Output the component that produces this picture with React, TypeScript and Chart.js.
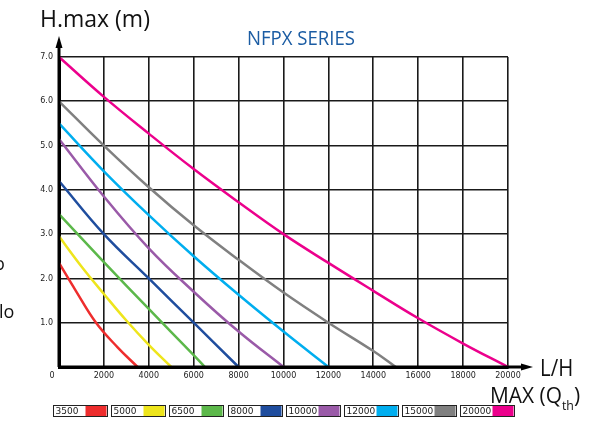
import React, { useEffect, useRef } from "react";
import { Chart, registerables } from "chart.js";

Chart.register(...registerables);

const seriesLabels = ["3500", "5000", "6500", "8000", "10000", "12000", "15000", "20000"];
const seriesColors = ["#ee2d2d", "#eee51c", "#5cb84a", "#1f4d9e", "#9a5aa8", "#00aeef", "#808080", "#ec008c"];

const flow3500 = [0, 750, 1650, 2600, 3500];
const head3500 = [2.35, 1.72, 1.0, 0.45, 0];
const flow5000 = [0, 1000, 2000, 3000, 4000, 5000];
const head5000 = [2.95, 2.27, 1.65, 1.05, 0.5, 0];
const flow6500 = [0, 2000, 4000, 6000, 6500];
const head6500 = [3.45, 2.37, 1.31, 0.27, 0];
const flow8000 = [0, 2000, 4000, 6000, 8000];
const head8000 = [4.2, 3.0, 2.0, 1.0, 0];
const flow10000 = [0, 2000, 4000, 6000, 8000, 10000];
const head10000 = [5.15, 3.85, 2.68, 1.7, 0.8, 0];
const flow12000 = [0, 2000, 4000, 6000, 8000, 10000, 12000];
const head12000 = [5.5, 4.42, 3.43, 2.5, 1.63, 0.8, 0];
const flow15000 = [0, 2000, 4000, 6000, 8000, 10000, 12000, 14000, 15000];
const head15000 = [6.0, 5.0, 4.06, 3.2, 2.42, 1.68, 1.0, 0.36, 0];
const flow20000 = [0, 2000, 4000, 6000, 8000, 10000, 12000, 14000, 16000, 18000, 20000];
const head20000 = [7.0, 6.1, 5.27, 4.47, 3.72, 3.0, 2.35, 1.72, 1.1, 0.53, 0];

const flows = [flow3500, flow5000, flow6500, flow8000, flow10000, flow12000, flow15000, flow20000];
const heads = [head3500, head5000, head6500, head8000, head10000, head12000, head15000, head20000];

const xTickValues = [0, 2000, 4000, 6000, 8000, 10000, 12000, 14000, 16000, 18000, 20000];
const yTickValues = [0, 1, 2, 3, 4, 5, 6, 7];

const chartTitle = "NFPX SERIES";
const yAxisTitle = "H.max (m)";
const xAxisTitle1 = "L/H";
const xAxisTitle2 = "MAX (Q";
const xAxisTitleSub = "th";

const overlayPlugin = {
  id: "overlay",
  afterDraw(chart: any) {
    const ctx = chart.ctx as CanvasRenderingContext2D;
    const xs = chart.scales.x;
    const ys = chart.scales.y;
    const x0 = xs.getPixelForValue(0);
    const y0 = ys.getPixelForValue(0);
    const yTop = ys.getPixelForValue(7);
    const xRight = xs.getPixelForValue(20000);
    ctx.save();
    ctx.strokeStyle = "#000";
    ctx.fillStyle = "#000";
    ctx.lineWidth = 3;
    ctx.beginPath();
    ctx.moveTo(x0, y0);
    ctx.lineTo(x0, yTop - 12);
    ctx.moveTo(x0, y0);
    ctx.lineTo(xRight + 16, y0);
    ctx.stroke();
    ctx.beginPath();
    ctx.moveTo(x0, yTop - 21);
    ctx.lineTo(x0 - 3.5, yTop - 9);
    ctx.lineTo(x0 + 3.5, yTop - 9);
    ctx.closePath();
    ctx.fill();
    ctx.beginPath();
    ctx.moveTo(xRight + 25, y0);
    ctx.lineTo(xRight + 13, y0 - 3.5);
    ctx.lineTo(xRight + 13, y0 + 3.5);
    ctx.closePath();
    ctx.fill();

    ctx.font = "8px 'DejaVu Sans'";
    ctx.fillStyle = "#222";
    ctx.textAlign = "center";
    ctx.textBaseline = "middle";
    ctx.fillText("0", x0 - 7, y0 + 9);

    ctx.fillStyle = "#1b5ca3";
    ctx.font = "20px 'Open Sans'";
    ctx.textAlign = "center";
    ctx.textBaseline = "alphabetic";
    ctx.save();
    ctx.translate(301, 45);
    ctx.scale(0.93, 1);
    ctx.fillText(chartTitle, 0, 0);
    ctx.restore();

    ctx.fillStyle = "#111";
    ctx.font = "23px 'Open Sans'";
    ctx.textAlign = "left";
    ctx.fillText(yAxisTitle, 40, 27);

    ctx.save();
    ctx.translate(540, 376);
    ctx.scale(0.85, 1);
    ctx.font = "24px 'Open Sans'";
    ctx.fillText(xAxisTitle1, 0, 0);
    ctx.restore();
    ctx.save();
    ctx.translate(490, 403);
    ctx.scale(0.95, 1);
    ctx.font = "22px 'Open Sans'";
    ctx.fillText(xAxisTitle2, 0, 0);
    const w = ctx.measureText(xAxisTitle2).width;
    ctx.font = "13px 'Open Sans'";
    ctx.fillText(xAxisTitleSub, w, 7);
    const w2 = ctx.measureText(xAxisTitleSub).width;
    ctx.font = "22px 'Open Sans'";
    ctx.fillText(")", w + w2, 0);
    ctx.restore();

    ctx.font = "18px 'Open Sans'";
    ctx.fillStyle = "#111";
    ctx.fillText("o", -6, 270);
    ctx.fillText("lo", -1, 318);

    const lx0 = 53;
    const step = 58.2;
    const ly = 405;
    const lw = 54;
    const lh = 11;
    for (let i = 0; i < seriesLabels.length; i++) {
      const lx = Math.round(lx0 + i * step) + 0.5;
      ctx.fillStyle = "#fff";
      ctx.fillRect(lx, ly, lw, lh);
      ctx.fillStyle = seriesColors[i];
      ctx.fillRect(lx + 32, ly + 1, lw - 33, lh - 1);
      ctx.strokeStyle = "#222";
      ctx.lineWidth = 1;
      ctx.strokeRect(lx, ly + 0.5, lw, lh);
      ctx.fillStyle = "#222";
      ctx.font = "9px 'DejaVu Sans'";
      ctx.textAlign = "left";
      ctx.textBaseline = "middle";
      ctx.fillText(seriesLabels[i], lx + 2, ly + 6.5);
    }
    ctx.restore();
  },
};

export default function App() {
  const canvasRef = useRef<HTMLCanvasElement | null>(null);
  useEffect(() => {
    if (!canvasRef.current) return;
    const datasets = seriesLabels.map((label, i) => ({
      label,
      data: flows[i].map((f, j) => ({ x: f, y: heads[i][j] })),
      borderColor: seriesColors[i],
      backgroundColor: seriesColors[i],
      borderWidth: 2.5,
      pointRadius: 0,
      tension: 0.4,
      fill: false,
      clip: false as any,
    }));
    const chart = new Chart(canvasRef.current, {
      type: "line",
      data: { datasets },
      options: {
        responsive: false,
        animation: false,
        layout: { padding: { left: 0, top: 57, right: 89, bottom: 0 } },
        plugins: {
          legend: { display: false },
          title: { display: false },
          tooltip: { enabled: false },
        },
        scales: {
          x: {
            type: "linear",
            min: 0,
            max: 20000,
            afterFit: (s: any) => {
              s.height = 54;
            },
            afterBuildTicks: (s: any) => {
              s.ticks = xTickValues.map((v) => ({ value: v }));
            },
            ticks: {
              padding: 4,
              font: { family: "'DejaVu Sans'", size: 8 },
              color: "#222",
              maxRotation: 0,
              autoSkip: false,
              callback: (v: any) => (v === 0 ? "" : String(v)),
            },
            grid: { color: "#1a1a1a", lineWidth: 1.6, drawTicks: false },
            border: { display: true, color: "#000", width: 3 },
          },
          y: {
            type: "linear",
            min: 0,
            max: 7,
            afterFit: (s: any) => {
              s.width = 59;
            },
            afterBuildTicks: (s: any) => {
              s.ticks = yTickValues.map((v) => ({ value: v }));
            },
            ticks: {
              padding: 6,
              font: { family: "'DejaVu Sans'", size: 8 },
              color: "#222",
              autoSkip: false,
              callback: (v: any) => (v === 0 ? "" : Number(v).toFixed(1)),
            },
            grid: { color: "#1a1a1a", lineWidth: 1.6, drawTicks: false },
            border: { display: true, color: "#000", width: 3 },
          },
        },
      },
      plugins: [overlayPlugin],
    });
    return () => chart.destroy();
  }, []);
  return (
    <div style={{ position: "absolute", left: 0, top: 0, width: 597, height: 421, background: "#fff" }}>
      <canvas ref={canvasRef} width={597} height={421} style={{ width: 597, height: 421, display: "block" }} />
    </div>
  );
}
